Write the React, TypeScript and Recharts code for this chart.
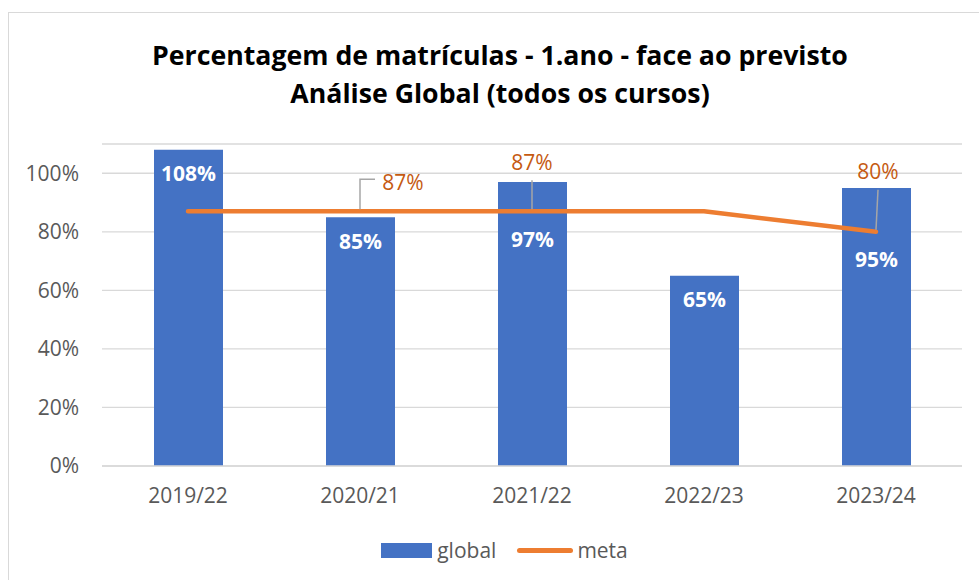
import React from 'react';
import { ComposedChart, Bar, Line, XAxis, YAxis, CartesianGrid, Legend, LabelList } from 'recharts';

const categories = ['2019/22', '2020/21', '2021/22', '2022/23', '2023/24'];
const globalValues = [1.08, 0.85, 0.97, 0.65, 0.95];
const metaValues = [0.87, 0.87, 0.87, 0.87, 0.8];
const yTicks = [0, 0.2, 0.4, 0.6, 0.8, 1.0];
const titleLines = ['Percentagem de matrículas - 1.ano - face ao previsto', 'Análise Global (todos os cursos)'];

const data = categories.map((c, i) => ({ cat: c, global: globalValues[i], meta: metaValues[i] }));

const BLUE = '#4472C4';
const ORANGE = '#ED7D31';
const ORANGE_TEXT = '#C55A11';
const GRID = '#D9D9D9';
const TEXT = '#595959';

// label placement for meta series (layout config, not data)
const metaLabelLayout: ({ tx: number; ty: number; path: number[][] } | null)[] = [
  null,
  { tx: 43, ty: -29, path: [[0, -2], [0, -32], [15, -32]] },
  { tx: 0, ty: -49, path: [[0, -2], [0, -31]] },
  null,
  { tx: 2, ty: -60, path: [[0, -2], [2, -42]] },
];

const pct = (v: number) => `${Math.round(v * 100)}%`;

const BarLabel = (props: any) => {
  const { x, y, width, height, value, index } = props;
  if (value == null) return null;
  const bottom = y + height;
  const pxPerUnit = height / value;
  const lineY = bottom - metaValues[index] * pxPerUnit;
  let cy = y + 24;
  if (Math.abs(lineY - cy) < 26) cy = lineY + 28;
  return (
    <text x={x + width / 2} y={cy} dy="0.35em" textAnchor="middle" fill="#FFFFFF" fontWeight={700} fontSize={21}>
      {pct(value)}
    </text>
  );
};

const MetaLabel = (props: any) => {
  const { x, y, value, index } = props;
  const lay = metaLabelLayout[index];
  if (!lay || value == null) return null;
  const d = lay.path.map((p, i) => `${i === 0 ? 'M' : 'L'}${x + p[0]},${y + p[1]}`).join(' ');
  return (
    <g>
      <path d={d} stroke="#A6A6A6" strokeWidth={1.5} fill="none" />
      <text x={x + lay.tx} y={y + lay.ty} dy="0.35em" textAnchor="middle" fill={ORANGE_TEXT} fontSize={21}>
        {pct(value)}
      </text>
    </g>
  );
};

const LegendContent = () => (
  <div style={{ display: 'flex', justifyContent: 'center', alignItems: 'center', paddingLeft: 21, height: 28, color: TEXT, fontSize: 21 }}>
    <span style={{ display: 'inline-block', width: 51, height: 15, background: BLUE, marginRight: 5 }} />
    <span>global</span>
    <span style={{ display: 'inline-block', width: 56, height: 5, borderRadius: 3, background: ORANGE, marginLeft: 21, marginRight: 4 }} />
    <span>meta</span>
  </div>
);

export default function App() {
  return (
    <div
      style={{
        position: 'absolute',
        left: 8,
        top: 12,
        width: 970,
        height: 567,
        borderLeft: `1px solid ${GRID}`,
        borderTop: `1px solid ${GRID}`,
        background: '#fff',
        fontFamily: '"Open Sans", sans-serif',
      }}
    >
      <div
        style={{
          position: 'absolute',
          left: 12,
          top: 23,
          width: 958,
          textAlign: 'center',
          fontWeight: 700,
          fontSize: 26.7,
          lineHeight: '38px',
          color: '#000',
        }}
      >
        {titleLines.map((t) => (
          <div key={t}>{t}</div>
        ))}
      </div>
      <ComposedChart width={970} height={567} data={data} margin={{ top: 131, right: 17, left: 0, bottom: 84 }}>
        <CartesianGrid horizontal vertical={false} stroke={GRID} strokeWidth={1.3} />
        <XAxis
          dataKey="cat"
          height={30}
          axisLine={{ stroke: GRID, strokeWidth: 1.5 }}
          tickLine={false}
          tickSize={0}
          tickMargin={22}
          tick={{ fill: TEXT, fontSize: 21 }}
        />
        <YAxis
          width={93}
          domain={[0, 1.1]}
          ticks={yTicks}
          tickFormatter={pct}
          axisLine={false}
          tickLine={false}
          tickSize={0}
          tickMargin={23}
          tick={{ fill: TEXT, fontSize: 21 }}
          allowDataOverflow
        />
        <Bar dataKey="global" fill={BLUE} barSize={69} isAnimationActive={false}>
          <LabelList dataKey="global" content={BarLabel} />
        </Bar>
        <Line
          dataKey="meta"
          stroke={ORANGE}
          strokeWidth={4.5}
          strokeLinecap="round"
          strokeLinejoin="round"
          dot={false}
          activeDot={false}
          isAnimationActive={false}
        >
          <LabelList dataKey="meta" content={MetaLabel} />
        </Line>
        <Legend
          verticalAlign="middle"
          align="center"
          layout="horizontal"
          content={LegendContent}
          wrapperStyle={{ top: 523, left: 0, width: 970 }}
        />
      </ComposedChart>
    </div>
  );
}
